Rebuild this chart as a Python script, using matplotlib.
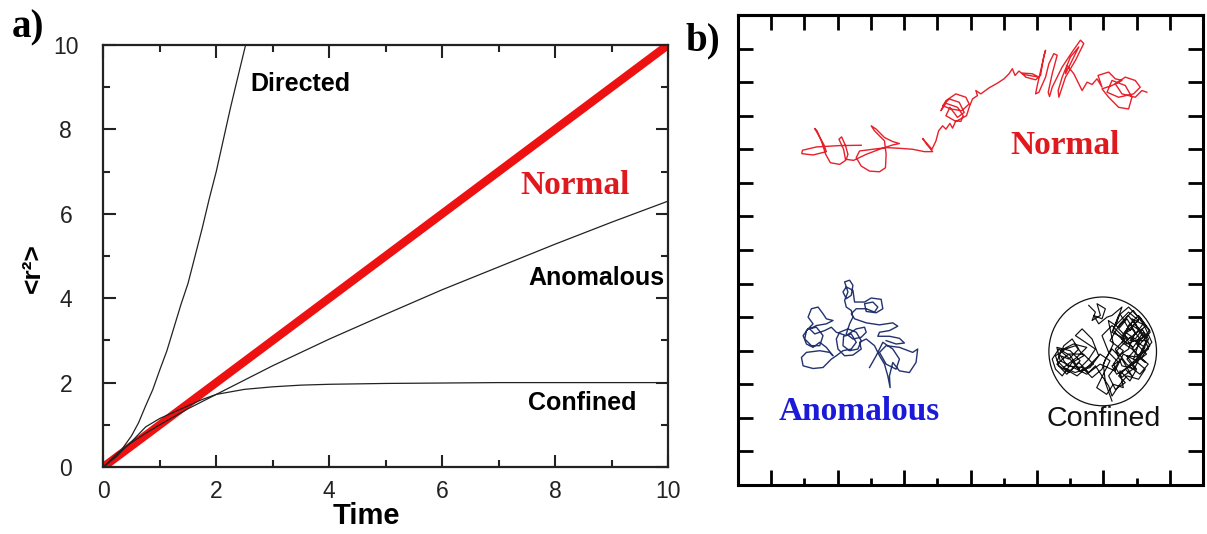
import matplotlib
matplotlib.use("Agg")
import matplotlib.pyplot as plt
from matplotlib.patches import Circle
from matplotlib.ticker import MultipleLocator, FixedLocator

plt.rcParams['font.family'] = ['Liberation Sans', 'DejaVu Sans']

# ---------------- Panel a: mean square displacement curves ----------------
time_ticks = [0, 2, 4, 6, 8, 10]
msd_ticks = [0, 2, 4, 6, 8, 10]

normal_t = [0, 10]
normal_msd = [0, 10]

directed_t = [0, 0.25, 0.5, 0.625, 0.75, 0.875, 1.0, 1.125, 1.25, 1.375, 1.5,
              1.625, 1.75, 1.875, 2.0, 2.125, 2.25, 2.375, 2.52]
directed_msd = [0, 0.27, 0.74, 1.05, 1.45, 1.83, 2.3, 2.75, 3.3, 3.85, 4.35,
                5.0, 5.65, 6.35, 7.0, 7.75, 8.5, 9.2, 10.0]

anomalous_t = [0, 0.25, 0.5, 0.75, 1, 1.5, 2, 3, 4, 5, 6, 7, 8, 9, 10]
anomalous_msd = [0, 0.33, 0.58, 0.8, 1.0, 1.38, 1.72, 2.4, 3.03, 3.62, 4.2,
                 4.74, 5.28, 5.8, 6.3]

confined_t = [0, 0.25, 0.5, 0.75, 1.0, 1.25, 1.5, 1.75, 2.0, 2.5, 3, 3.5, 4,
              5, 6, 7, 8, 9, 10]
confined_msd = [0, 0.28, 0.6, 0.95, 1.15, 1.3, 1.45, 1.6, 1.72, 1.84, 1.9,
                1.94, 1.96, 1.98, 1.99, 2.0, 2.0, 2.0, 2.0]

# ---------------- Panel b: example trajectories ----------------
normal_x = [3.71, 3.06, 2.36, 1.94, 1.92, 2.26, 2.66, 2.58, 2.41, 2.31, 2.38, 2.51, 2.64, 2.78,
            3.06, 3.24, 3.18, 3.04, 3.12, 3.24, 3.31, 3.26, 3.48, 3.86, 4.26, 4.66, 4.86, 4.66,
            4.41, 4.16, 4.01, 4.11, 4.41, 4.46, 4.44, 4.26, 3.96, 3.71, 3.56, 3.66, 4.06, 4.46,
            4.86, 5.26, 5.61, 5.86, 5.68, 5.56, 5.84, 5.96, 6.04, 6.16, 6.26, 6.38, 6.46, 6.56,
            6.71, 6.78, 6.61, 6.26, 6.11, 6.26, 6.56, 6.86, 6.96, 6.74, 6.41, 6.16, 6.36, 6.66,
            6.81, 6.61, 6.38, 6.26, 6.56, 6.88, 6.96, 7.06, 7.21, 7.16, 7.31, 7.56, 7.81, 8.01,
            8.16, 8.26, 8.34, 8.46, 8.58, 8.76, 9.06, 8.86, 8.56, 8.66, 8.96, 9.11, 9.21, 9.26,
            9.16, 9.01, 8.96, 9.06, 9.26, 9.36, 9.51, 9.61, 9.46, 9.34, 9.38, 9.46, 9.76, 10.06,
            10.31, 10.41, 10.16, 9.86, 9.66, 9.64, 9.76, 10.01, 10.26, 10.01, 9.86, 9.91, 10.11,
            10.26, 10.36, 10.51, 10.66, 10.81, 10.96, 10.84, 11.16, 11.36, 11.56, 11.26, 10.96,
            11.16, 11.46, 11.76, 11.86, 11.66, 11.26, 11.11, 11.46, 11.91, 12.11, 11.96, 11.66,
            11.36, 11.56, 11.96, 12.16, 12.31]
normal_y = [10.12, 10.11, 10.07, 9.97, 9.87, 9.83, 9.93, 10.15, 10.45, 10.62, 10.55, 10.25, 9.85,
            9.60, 9.55, 9.67, 10.00, 10.30, 10.37, 10.10, 9.85, 9.70, 9.67, 9.85, 10.00, 10.13,
            10.17, 10.23, 10.35, 10.60, 10.70, 10.55, 10.25, 9.85, 9.45, 9.33, 9.35, 9.50, 9.75,
            9.95, 10.00, 10.05, 10.03, 10.00, 9.93, 9.93, 10.15, 10.32, 10.00, 10.25, 10.55,
            10.70, 10.60, 10.77, 10.63, 10.85, 10.83, 11.00, 11.25, 11.37, 11.15, 11.45, 11.65,
            11.55, 11.35, 11.15, 11.20, 11.30, 11.50, 11.40, 11.10, 10.95, 11.25, 11.00, 10.83,
            11.00, 11.25, 11.50, 11.60, 11.75, 11.65, 11.83, 11.97, 12.10, 12.25, 12.40, 12.20,
            12.33, 12.23, 12.20, 12.15, 12.25, 12.27, 12.15, 12.07, 12.20, 12.80, 12.95, 12.55,
            11.90, 11.65, 11.70, 12.15, 12.55, 12.85, 12.80, 12.25, 11.70, 11.57, 11.85, 12.45,
            12.90, 13.25, 13.15, 12.65, 12.15, 11.55, 11.75, 12.15, 12.75, 13.05, 12.55, 12.25,
            12.50, 12.25, 11.95, 11.75, 12.00, 11.93, 12.10, 11.85, 12.20, 12.30, 12.10, 12.05,
            11.90, 11.80, 11.55, 11.25, 11.20, 11.55, 11.90, 12.05, 11.70, 11.55, 11.65, 11.85,
            12.05, 12.15, 11.95, 11.65, 11.55, 11.75, 11.70]

anomalous_x = [3.96, 4.16, 4.26, 4.36, 4.66, 4.86, 4.76, 4.46, 4.26, 4.46, 4.86, 5.26, 5.41, 5.36,
               5.16, 4.86, 4.66, 4.56, 4.58, 4.51, 4.41, 4.26, 4.11, 3.86, 3.66, 3.71, 3.46, 3.21,
               3.01, 2.96, 3.06, 3.31, 3.56, 3.71, 3.61, 3.36, 3.16, 3.18, 3.41, 3.56, 3.41, 3.16,
               2.96, 2.81, 2.56, 2.26, 1.96, 1.91, 2.06, 2.46, 2.76, 2.86, 2.66, 2.46, 2.26, 2.06,
               1.96, 2.11, 2.36, 2.56, 2.46, 2.21, 2.01, 2.06, 2.26, 2.11, 2.21, 2.41, 2.56, 2.66,
               2.86, 2.66, 2.36, 2.16, 2.31, 2.61, 2.81, 2.96, 3.26, 3.56, 3.81, 3.86, 3.71, 3.46,
               3.26, 3.36, 3.46, 3.41, 3.26, 3.21, 3.31, 3.21, 3.36, 3.46, 3.41, 3.26, 3.16, 3.26,
               3.46, 3.51, 3.81, 4.01, 4.31, 4.36, 4.16, 3.86, 3.81, 4.06, 4.21, 4.11, 3.86, 3.56,
               3.41, 3.51, 3.86, 4.26, 4.66, 4.81, 4.56, 4.26, 4.21, 4.56, 4.86, 5.01, 4.76, 4.46]
anomalous_y = [3.50, 3.85, 4.05, 4.25, 4.05, 3.75, 3.45, 3.60, 3.95, 4.15, 4.10, 3.95, 4.05, 3.65,
               3.35, 3.40, 3.65, 3.25, 2.90, 3.25, 3.60, 3.85, 4.15, 4.35, 4.25, 4.05, 3.87, 3.85,
               4.05, 4.35, 4.55, 4.65, 4.55, 4.30, 4.05, 4.00, 4.15, 4.43, 4.50, 4.25, 4.05, 4.00,
               3.85, 3.75, 3.50, 3.47, 3.55, 3.80, 3.95, 4.00, 3.95, 3.85, 4.10, 4.25, 4.10, 4.20,
               4.45, 4.65, 4.70, 4.45, 4.15, 4.15, 4.35, 4.60, 4.80, 5.00, 5.25, 5.30, 5.10, 4.95,
               4.90, 4.80, 4.75, 4.65, 4.50, 4.60, 4.70, 4.55, 4.45, 4.65, 4.70, 4.55, 4.40, 4.35,
               4.50, 4.80, 5.00, 5.20, 5.30, 5.50, 5.75, 6.05, 6.10, 5.95, 5.65, 5.55, 5.75, 5.90,
               5.80, 5.45, 5.45, 5.57, 5.53, 5.25, 5.13, 5.17, 5.40, 5.45, 5.30, 5.15, 5.25, 5.25,
               5.10, 4.95, 4.83, 4.77, 4.83, 4.73, 4.60, 4.55, 4.43, 4.43, 4.37, 4.23, 4.20, 4.30]

confined_x = [10.56, 10.76, 10.66, 10.91, 10.81, 11.06, 10.96, 10.71, 10.86, 11.11, 11.26, 11.56,
              11.36, 11.76, 12.06, 11.66, 11.96, 12.26, 11.86, 12.21, 12.36, 12.01, 12.26, 11.86,
              11.56, 11.76, 12.06, 12.41, 12.06, 11.71, 11.96, 11.56, 11.36, 11.66, 11.26, 11.46,
              11.76, 12.16, 12.46, 12.21, 11.76, 11.46, 11.66, 11.36, 11.16, 11.46, 11.16, 10.96,
              11.26, 11.56, 11.86, 12.11, 11.91, 12.26, 12.06, 11.71, 11.46, 11.26, 11.16, 10.96,
              10.76, 10.56, 10.26, 9.96, 9.66, 9.56, 9.86, 10.16, 10.41, 10.06, 9.76, 9.56, 9.46,
              9.66, 10.01, 10.26, 10.56, 10.76, 10.46, 10.16, 10.36, 10.66, 10.86, 10.56, 10.21,
              9.86, 9.61, 9.81, 10.06, 10.26, 9.96, 9.71, 9.91, 10.36, 10.66, 10.96, 11.06, 11.26,
              11.46, 11.76, 11.96, 11.71, 11.46, 11.76, 12.16, 12.36, 12.06, 11.66, 11.86, 11.56,
              11.26, 11.4, 11.9, 12.3, 12.0, 12.4, 12.1, 11.8, 11.5, 11.3, 11.7, 12.2, 11.9, 11.6,
              12.0, 12.35, 12.1, 11.7, 11.4, 11.8, 12.25, 11.95, 11.55, 11.3, 11.6, 11.2, 11.5,
              11.9, 12.2, 11.8, 12.3, 12.0, 11.6, 11.35, 10.9, 10.5, 10.1, 9.7, 9.6, 10.0, 10.3,
              9.9, 9.6, 9.95, 10.4, 10.7, 10.3, 10.0, 9.7, 10.1, 10.5, 10.2, 9.8, 10.15, 10.6,
              10.9, 11.2, 11.0, 10.8, 11.1, 11.3, 11.6, 11.5, 11.8, 12.0, 11.7, 12.15, 12.4, 12.2,
              11.9, 11.55, 11.8, 12.1, 11.75, 11.45, 11.15, 11.3, 11.0, 11.06, 11.26]
confined_y = [5.35, 5.15, 4.90, 5.05, 5.40, 5.25, 4.95, 5.05, 4.80, 5.00, 5.05, 5.30, 4.75, 5.15,
              4.90, 4.55, 4.35, 4.75, 4.95, 4.45, 4.05, 3.85, 3.65, 4.05, 4.25, 4.75, 5.05, 4.55,
              4.15, 3.75, 3.45, 3.55, 4.05, 4.35, 4.55, 5.05, 5.30, 4.90, 4.25, 3.95, 3.55, 3.25,
              3.05, 2.85, 3.25, 3.65, 3.95, 4.45, 4.75, 4.45, 4.65, 4.35, 3.75, 3.45, 3.15, 3.25,
              2.95, 2.65, 2.95, 3.25, 3.55, 3.35, 3.65, 3.35, 3.55, 3.85, 4.05, 4.15, 3.85, 3.65,
              3.25, 3.45, 3.75, 4.05, 3.85, 3.45, 3.75, 4.05, 4.25, 4.45, 4.65, 4.35, 3.85, 3.55,
              3.25, 3.45, 3.70, 4.15, 4.35, 4.05, 3.75, 3.85, 3.55, 3.50, 3.20, 3.45, 3.75, 4.05,
              3.85, 4.05, 4.55, 4.95, 4.65, 4.35, 4.65, 4.35, 3.75, 3.45, 3.25, 3.75, 3.55,
              3.3, 3.6, 3.9, 4.2, 4.6, 5.0, 4.6, 5.1, 4.6, 4.2, 4.4, 4.9, 4.5, 3.9, 3.6, 3.3, 3.6,
              4.0, 4.4, 4.1, 3.5, 3.2, 3.6, 4.0, 4.3, 4.8, 5.2, 4.8, 4.3, 4.3, 3.7, 3.9, 3.4, 3.6,
              3.3, 3.5, 3.7, 4.1, 4.0, 3.7, 3.3, 3.6, 3.9, 3.9, 3.6, 3.4, 3.75, 4.0, 4.2, 4.1, 3.8,
              3.5, 3.35, 3.5, 3.9, 3.7, 3.3, 2.9, 2.7, 3.0, 2.9, 3.4, 3.1, 3.45, 3.85, 3.8, 4.15,
              4.55, 4.1, 4.35, 4.8, 4.6, 5.05, 4.7, 4.9, 4.2, 3.6, 3.05, 2.50]
confine_center = (10.98, 3.98)
confine_radius = 1.62

box_ticks = list(range(1, 14))
box_major = [1, 3, 5, 7, 9, 11, 13]
box_minor = [2, 4, 6, 8, 10, 12]

# ---------------- Figure ----------------
fig = plt.figure(figsize=(12.07, 5.34), dpi=100)
fig.patch.set_facecolor('white')

W, H = 1207.0, 534.0
ax = fig.add_axes([103.3 / W, 1 - 467 / H, (668 - 103.3) / W, (467 - 45) / H])

ax.plot(normal_t, normal_msd, color='#ee1111', lw=6, solid_capstyle='butt', zorder=2)
for tt, mm in [(directed_t, directed_msd), (anomalous_t, anomalous_msd),
               (confined_t, confined_msd)]:
    ax.plot(tt, mm, color='#222222', lw=0.9, zorder=3)

ax.set_xlim(0, 10)
ax.set_ylim(0, 10)
ax.xaxis.set_major_locator(FixedLocator(time_ticks))
ax.yaxis.set_major_locator(FixedLocator(msd_ticks))
ax.xaxis.set_minor_locator(MultipleLocator(1))
ax.yaxis.set_minor_locator(MultipleLocator(1))
ax.tick_params(which='both', direction='in', top=True, right=True, width=1.5,
               colors='#222222', labelsize=16.5)
ax.tick_params(which='major', length=9)
ax.tick_params(which='minor', length=5)
ax.tick_params(axis='x', which='major', pad=9)
ax.tick_params(axis='y', which='major', pad=27)
for lab in ax.get_yticklabels():
    lab.set_horizontalalignment('center')
for s in ax.spines.values():
    s.set_linewidth(1.6)
    s.set_color('#222222')

ax.set_xlabel('Time', fontsize=21, fontweight='bold')
ax.xaxis.set_label_coords(0.466, -0.083)
ax.set_ylabel('<r²>', fontsize=19, fontweight='bold')
ax.yaxis.label.set_va('center')
ax.yaxis.set_label_coords(-0.1245, 0.4716)

ax.text(2.6, 8.92, 'Directed', fontsize=18, fontweight='bold', ha='left', va='baseline')
ax.text(7.39, 6.47, 'Normal', fontsize=24, fontweight='bold', color='#e0191e',
        family='Liberation Serif', ha='left', va='baseline')
ax.text(7.52, 4.31, 'Anomalous', fontsize=18, fontweight='bold', ha='left', va='baseline')
ax.text(7.52, 1.35, 'Confined', fontsize=18, fontweight='bold', ha='left', va='baseline')

fig.text(12 / W, 1 - 37 / H, 'a)', fontsize=28, fontweight='bold', family='Liberation Serif',
         ha='left', va='baseline')
fig.text(685 / W, 1 - 50 / H, 'b)', fontsize=28, fontweight='bold', family='Liberation Serif',
         ha='left', va='baseline')

# Panel b
bx = fig.add_axes([738 / W, 1 - 485 / H, (1203 - 738) / W, (485 - 15) / H])
bx.plot(normal_x, normal_y, color='#e8202a', lw=1.0)
bx.plot(anomalous_x, anomalous_y, color='#23336e', lw=1.0)
bx.plot(confined_x, confined_y, color='#111111', lw=0.85)
bx.add_patch(Circle(confine_center, confine_radius, fill=False, lw=0.9, color='#111111'))
bx.set_xlim(0, 14)
bx.set_ylim(0, 14)
bx.xaxis.set_major_locator(FixedLocator(box_major))
bx.xaxis.set_minor_locator(FixedLocator(box_minor))
bx.yaxis.set_major_locator(FixedLocator(box_ticks))
bx.tick_params(which='both', direction='in', width=2, labelbottom=False, labelleft=False,
               top=False, right=True)
bx.tick_params(which='major', length=10.5)
bx.tick_params(which='minor', length=5)
for s in bx.spines.values():
    s.set_linewidth(2.2)
sec = bx.secondary_xaxis('top')
sec.xaxis.set_major_locator(FixedLocator(box_ticks))
sec.tick_params(direction='in', length=11, width=2, labeltop=False)
sec.spines['top'].set_linewidth(2.2)

bx.text(9.86, 9.87, 'Normal', fontsize=24, fontweight='bold', color='#e0191e',
        family='Liberation Serif', ha='center', va='baseline')
bx.text(3.64, 1.93, 'Anomalous', fontsize=24, fontweight='bold', color='#1a1ad8',
        family='Liberation Serif', ha='center', va='baseline')
bx.text(11.01, 1.75, 'Confined', fontsize=20.5, color='#111111', ha='center', va='baseline')

fig.savefig('out.png', dpi=100, facecolor='white')
